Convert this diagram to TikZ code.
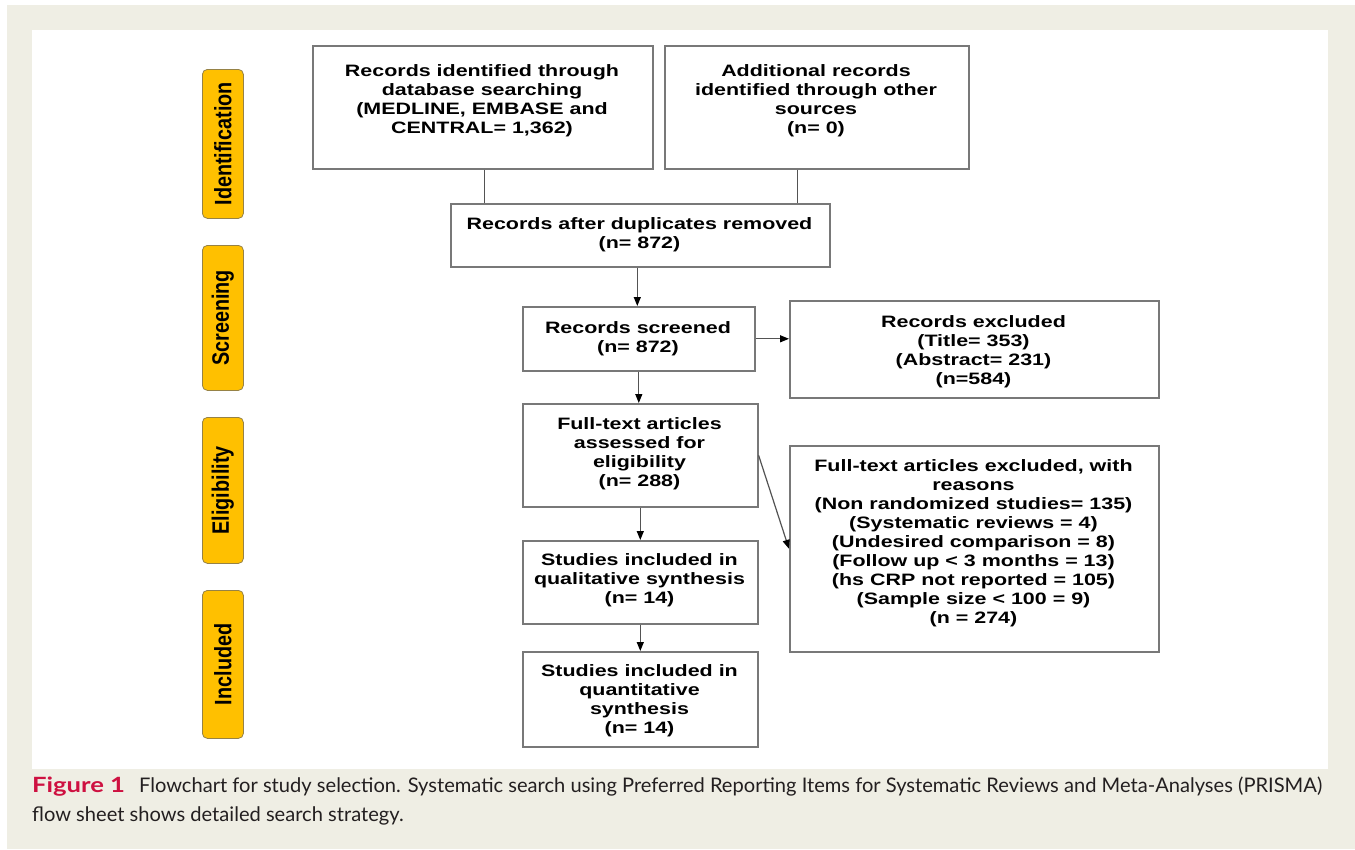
\documentclass[tikz,border=0pt]{standalone}
\usepackage{fontspec}
\setmainfont{Liberation Sans}
\newfontfamily\boxfont{Liberation Sans}[FakeStretch=1.3]
\newfontfamily\capfont{Lato}
\newfontfamily\figfont{Lato}[FakeStretch=1.22]
\usetikzlibrary{arrows.meta}
\definecolor{beige}{RGB}{239,238,228}
\definecolor{stagefill}{RGB}{255,192,0}
\definecolor{stageedge}{RGB}{150,130,70}
\definecolor{boxedge}{RGB}{120,120,120}
\definecolor{figred}{RGB}{206,17,65}
\definecolor{captext}{RGB}{35,31,32}
\begin{document}
\begin{tikzpicture}[x=1pt,y=-1pt,
  box/.style={draw=boxedge, line width=1.6pt, fill=white, anchor=north west, inner sep=0pt},
  txt/.style={align=center, font=\boxfont\bfseries\fontsize{16.5}{19}\selectfont, inner sep=0pt},
  stage/.style={draw=stageedge, line width=0.8pt, fill=stagefill, rounded corners=5pt, anchor=north west, minimum width=41pt, inner sep=0pt, font=\bfseries\fontsize{19.8}{22}\selectfont},
  conn/.style={draw=gray!65!black, line width=1.2pt},
  arr/.style={conn, -{Triangle[length=9pt,width=7pt,color=black]}},
  captxt/.style={anchor=base west, inner sep=0pt, text=captext, font=\capfont\fontsize{20.1}{29}\selectfont}
]
\useasboundingbox (0,0) rectangle (1355,849);
\fill[white] (0,0) rectangle (1355,849);
\fill[beige] (7,5) rectangle (1355,849);
\fill[white] (32,30) rectangle (1328,769);

% stage labels
\node[stage, minimum height=149pt] (s1) at (202,69) {\rotatebox{90}{\scalebox{1}[1.2]{Identification}}};
\node[stage, minimum height=145pt] (s2) at (202,245) {\rotatebox{90}{\scalebox{1}[1.2]{Screening}}};
\node[stage, minimum height=146pt] (s3) at (202,417) {\rotatebox{90}{\scalebox{1}[1.2]{Eligibility}}};
\node[stage, minimum height=148pt] (s4) at (202,590) {\rotatebox{90}{\scalebox{1}[1.2]{Included}}};

% boxes
\node[box, minimum width=340pt, minimum height=123pt] (a) at (312,45) {};
\node[box, minimum width=304pt, minimum height=123pt] (b) at (664,45) {};
\node[box, minimum width=379pt, minimum height=63pt] (c) at (450,203) {};
\node[box, minimum width=232pt, minimum height=64pt] (d) at (522,306) {};
\node[box, minimum width=369pt, minimum height=97pt] (e) at (789,300) {};
\node[box, minimum width=235pt, minimum height=103pt] (f) at (522,403) {};
\node[box, minimum width=369pt, minimum height=206pt] (g) at (789,445) {};
\node[box, minimum width=235pt, minimum height=83pt] (h) at (522,540) {};
\node[box, minimum width=235pt, minimum height=95pt] (i) at (522,651) {};

% box texts
\node[txt] (ta) at (482,100.5) {Records identified through\\database searching\\(MEDLINE, EMBASE and\\CENTRAL= 1,362)};
\node[txt] (tb) at (816,100.5) {Additional records\\identified through other\\sources\\(n= 0)};
\node[txt] (tc) at (639.5,234.5) {Records after duplicates removed\\(n= 872)};
\node[txt] (td) at (638,338.5) {Records screened\\(n= 872)};
\node[txt] (te) at (973.5,351.5) {Records excluded\\(Title= 353)\\(Abstract= 231)\\(n=584)};
\node[txt] (tf) at (639.5,453.5) {Full-text articles\\assessed for\\eligibility\\(n= 288)};
\node[txt] (tg) at (973.5,543) {Full-text articles excluded, with\\reasons\\(Non randomized studies= 135)\\(Systematic reviews = 4)\\(Undesired comparison = 8)\\(Follow up < 3 months = 13)\\(hs CRP not reported = 105)\\(Sample size < 100 = 9)\\(n = 274)};
\node[txt] (th) at (639.5,580.5) {Studies included in\\qualitative synthesis\\(n= 14)};
\node[txt] (ti) at (639.5,701) {Studies included in\\quantitative\\synthesis\\(n= 14)};

% connectors
\draw[conn] ([xshift=2pt]a.south) -- ([xshift=2pt]a.south |- c.north);
\draw[conn] ([xshift=-19pt]b.south) -- ([xshift=-19pt]b.south |- c.north);
\draw[arr] ([xshift=-3pt]c.south) -- ([xshift=-3pt]c.south |- d.north);
\draw[arr] (d.east) -- (d.east -| e.west);
\draw[arr] (d.south) -- (d.south |- f.north);
\draw[arr] (f.east) -- (g.west);
\draw[arr] (f.south) -- (f.south |- h.north);
\draw[arr] (h.south) -- (h.south |- i.north);

% caption
\node[captxt] (cap1) at (32,792.7) {{\figfont\bfseries\fontsize{21}{29}\selectfont\color{figred}Figure 1}\hspace{14pt}Flowchart for study selection. Systematic search using Preferred Reporting Items for Systematic Reviews and Meta-Analyses (PRISMA)};
\node[captxt] (cap2) at (32,821.7) {flow sheet shows detailed search strategy.};
\end{tikzpicture}
\end{document}
